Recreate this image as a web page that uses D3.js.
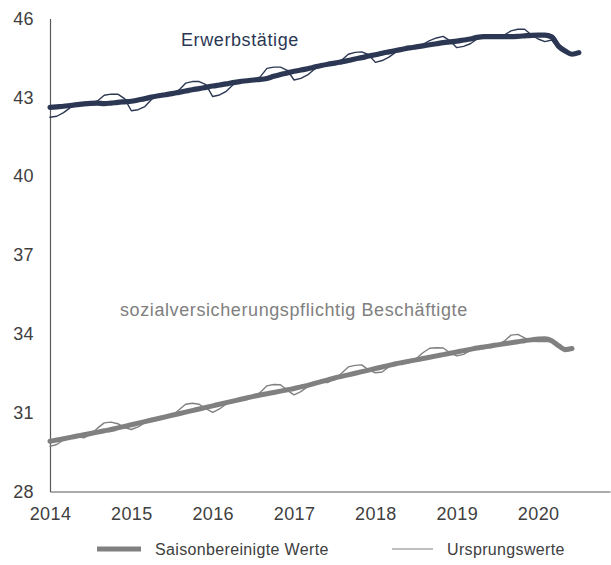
<!DOCTYPE html>
<html><head><meta charset="utf-8">
<script src="https://cdn.jsdelivr.net/npm/d3@7/dist/d3.min.js"></script>
<style>
body{margin:0;background:#fff;}
text{font-family:"Liberation Sans",Arial,sans-serif;}
</style></head>
<body>
<svg id="c" width="611" height="565"></svg>
<script>
// Monthly data, Jan 2014 onwards (index 0 = Jan 2014), in millions
const yearLabels = ["2014","2015","2016","2017","2018","2019","2020"];
const yTicks = [28,31,34,37,40,43,46];

const erwSA = [42.62,42.64,42.66,42.69,42.72,42.75,42.77,42.78,42.76,42.78,42.81,42.83,
42.85,42.90,42.95,43.01,43.06,43.10,43.14,43.19,43.24,43.29,43.33,43.38,
43.43,43.47,43.51,43.56,43.60,43.63,43.66,43.68,43.72,43.80,43.87,43.93,
43.99,44.04,44.09,44.15,44.21,44.26,44.30,44.35,44.40,44.46,44.51,44.57,
44.62,44.68,44.73,44.78,44.83,44.88,44.92,44.96,45.00,45.04,45.08,45.11,
45.14,45.18,45.22,45.28,45.31,45.31,45.31,45.31,45.31,45.32,45.34,45.36,
45.37,45.37,45.30,44.95,44.76,44.64,44.70];

const erwOrig = [42.24,42.28,42.42,42.61,42.70,42.75,42.79,42.86,43.08,43.12,43.12,42.95,
42.49,42.53,42.65,42.93,43.04,43.10,43.16,43.27,43.54,43.60,43.60,43.48,
43.03,43.09,43.23,43.48,43.58,43.63,43.68,43.78,44.10,44.15,44.15,44.03,
43.66,43.72,43.85,44.07,44.19,44.26,44.32,44.41,44.64,44.71,44.73,44.62,
44.33,44.40,44.53,44.72,44.81,44.88,44.94,45.02,45.16,45.26,45.32,45.15,
44.89,44.94,45.04,45.22,45.29,45.31,45.33,45.37,45.53,45.59,45.59,45.38,
45.22,45.12,45.18,44.87,44.70,44.62,44.68];

const svbSA = [29.91,29.96,30.01,30.06,30.11,30.16,30.21,30.26,30.31,30.36,30.42,30.48,
30.54,30.60,30.66,30.72,30.78,30.84,30.90,30.96,31.02,31.08,31.14,31.20,
31.26,31.32,31.38,31.44,31.50,31.56,31.62,31.67,31.72,31.77,31.82,31.87,
31.92,31.98,32.04,32.11,32.18,32.25,32.32,32.38,32.44,32.50,32.56,32.62,
32.68,32.74,32.80,32.86,32.91,32.96,33.01,33.06,33.11,33.16,33.21,33.26,
33.31,33.36,33.41,33.46,33.50,33.54,33.58,33.62,33.66,33.70,33.74,33.77,
33.80,33.81,33.74,33.55,33.40,33.44];

const svbOrig = [29.72,29.79,29.96,30.06,30.09,30.04,30.17,30.41,30.61,30.64,30.58,30.43,
30.36,30.46,30.62,30.72,30.77,30.78,30.87,31.10,31.32,31.36,31.32,31.15,
31.01,31.14,31.33,31.44,31.49,31.50,31.59,31.77,32.02,32.07,32.06,31.85,
31.68,31.80,31.99,32.11,32.16,32.15,32.28,32.50,32.74,32.80,32.82,32.62,
32.52,32.55,32.75,32.86,32.90,32.90,33.05,33.28,33.45,33.47,33.46,33.28,
33.16,33.22,33.37,33.46,33.49,33.48,33.58,33.72,33.95,33.98,33.85,33.72,
33.71,33.72,33.70,33.50,33.32,33.40];

const navy = "#2c3753", gray = "#808080";
const svg = d3.select("#c");
const x = d3.scaleLinear().domain([0, 82.6]).range([50, 610]);
const y = d3.scaleLinear().domain([28, 46]).range([491.5, 18.5]);

// axes
const yAxis = d3.axisLeft(y).tickValues(yTicks).tickSize(0).tickSizeOuter(0).tickPadding(16).tickFormat(d3.format("d"));
const gy = svg.append("g").attr("transform","translate(50,0)").call(yAxis);
gy.select(".domain").attr("stroke","#595959").attr("stroke-width",1.2);
gy.selectAll("text").attr("font-size",18).attr("fill","#404040").attr("letter-spacing","0.4px")
  .attr("font-family","'Liberation Sans',Arial,sans-serif");

const xAxis = d3.axisBottom(x).tickValues(yearLabels.map((d,i)=>i*12)).tickSize(0).tickSizeOuter(0).tickPadding(16)
  .tickFormat((d,i)=>yearLabels[i]);
const gx = svg.append("g").attr("transform","translate(0,491.5)").call(xAxis);
gx.select(".domain").attr("stroke","#595959").attr("stroke-width",1.2);
gx.selectAll("text").attr("font-size",18).attr("fill","#404040").attr("letter-spacing","0.4px")
  .attr("font-family","'Liberation Sans',Arial,sans-serif");

const thick = d3.line().x((d,i)=>x(i)).y(d=>y(d)).curve(d3.curveMonotoneX);
const thin = d3.line().x((d,i)=>x(i)).y(d=>y(d));

function draw(data, gen, color, w){
  svg.append("path").datum(data).attr("d",gen).attr("fill","none")
    .attr("stroke",color).attr("stroke-width",w).attr("stroke-linejoin","round").attr("stroke-linecap","round");
}
draw(svbSA, thick, gray, 5);
draw(svbOrig, thin, gray, 1.4);
draw(erwSA, thick, navy, 5.2);
draw(erwOrig, thin, navy, 1.4);

// series labels
svg.append("text").attr("x",181).attr("y",46).attr("font-size",18).attr("fill",navy)
  .attr("letter-spacing","0.6px").text("Erwerbstätige");
svg.append("text").attr("x",120).attr("y",316).attr("font-size",18).attr("fill",gray)
  .attr("letter-spacing","0.6px").text("sozialversicherungspflichtig Beschäftigte");

// legend
const lg = svg.append("g");
lg.append("line").attr("x1",97).attr("x2",141).attr("y1",549).attr("y2",549)
  .attr("stroke",gray).attr("stroke-width",5);
lg.append("text").attr("x",155).attr("y",555).attr("font-size",16).attr("fill","#404040")
  .attr("letter-spacing","0.35px").text("Saisonbereinigte Werte");
lg.append("line").attr("x1",392).attr("x2",433).attr("y1",549).attr("y2",549)
  .attr("stroke",gray).attr("stroke-width",1.2);
lg.append("text").attr("x",447).attr("y",555).attr("font-size",16).attr("fill","#404040")
  .attr("letter-spacing","0.35px").text("Ursprungswerte");
</script>
</body></html>
